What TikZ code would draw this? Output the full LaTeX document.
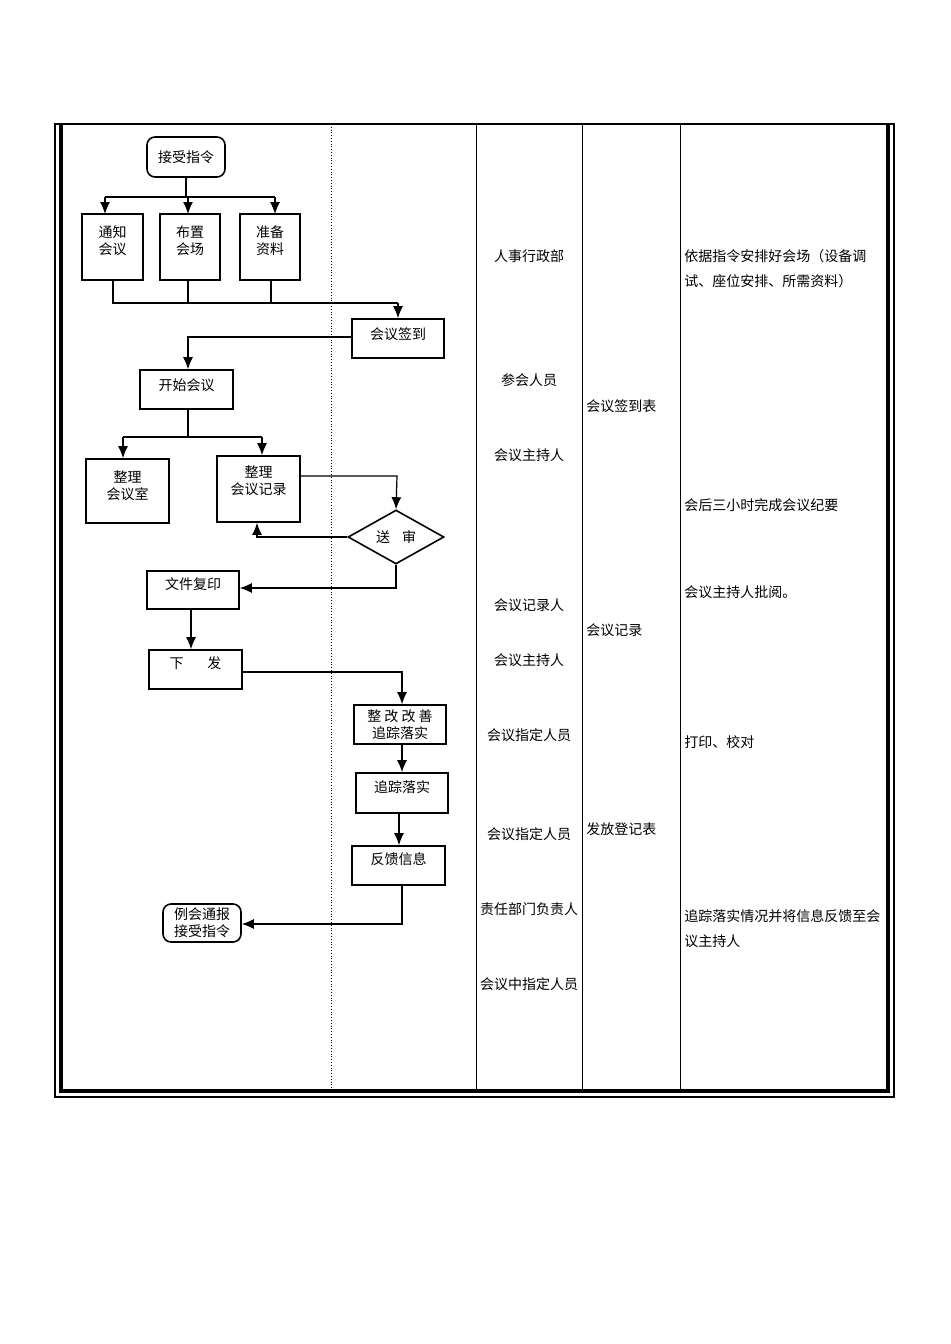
\documentclass[tikz,border=0pt]{standalone}
\usepackage{fontspec}
\setmainfont{Noto Sans CJK SC}
\usetikzlibrary{fit,arrows.meta,shapes.geometric}
\begin{document}
\begin{tikzpicture}[x=0.5pt,y=-0.5pt,
  box/.style={draw,line width=0.8pt,inner sep=0pt},
  rbox/.style={box,rounded corners=4pt},
  ln/.style={line width=0.6pt},
  ar/.style={ln,-{Latex[length=6pt,width=5pt]}},
  tx/.style={font=\fontsize{7}{8.5}\selectfont,align=center,inner sep=0pt},
  tl/.style={tx,anchor=west}]
\useasboundingbox (0,0) rectangle (950,1344);
% frame
\draw[line width=0.9pt] (55,124) rectangle (894,1097);
\draw[line width=1.7pt] (61,124) -- (61,1091) -- (888,1091) -- (888,124);
\draw[densely dotted,line width=0.4pt] (331,124) -- (331,1091);
\foreach \x in {476,582,680} \draw[line width=0.5pt] (\x,124) -- (\x,1091);
% nodes
\node[rbox,fit={(147,137)(225,177)},label={[tx]center:接受指令}] (a) {};
\node[box,fit={(82,214)(143,280)},label={[tx,anchor=north,yshift=-6pt]north:通知\\会议}] (b1) {};
\node[box,fit={(160,214)(220,280)},label={[tx,anchor=north,yshift=-6pt]north:布置\\会场}] (b2) {};
\node[box,fit={(240,214)(300,280)},label={[tx,anchor=north,yshift=-6pt]north:准备\\资料}] (b3) {};
\node[box,fit={(352,319)(444,358)},label={[tx,yshift=2pt]center:会议签到}] (c) {};
\node[box,fit={(140,370)(233,409)},label={[tx,yshift=2pt]center:开始会议}] (d) {};
\node[box,fit={(86,459)(169,523)},label={[tx,anchor=north,yshift=-6pt]north:整理\\会议室}] (e1) {};
\node[box,fit={(217,456)(300,522)},label={[tx,anchor=north,yshift=-5pt]north:整理\\会议记录}] (e2) {};
\node[diamond,draw,line width=0.8pt,minimum width=48pt,minimum height=27pt,inner sep=0pt,aspect=1.8,tx] (f) at (396,537) {送\hspace{6pt}审};
\node[box,fit={(147,571)(239,609)},label={[tx,yshift=3pt]center:文件复印}] (g) {};
\node[box,fit={(149,650)(242,689)},label={[tx,yshift=3pt]center:下\hspace{12pt}发}] (h) {};
\node[box,fit={(354,705)(446,744)},label={[tx]center:整 改 改 善\\追踪落实}] (i) {};
\node[box,fit={(356,773)(448,813)},label={[tx,yshift=3pt]center:追踪落实}] (j) {};
\node[box,fit={(352,846)(445,885)},label={[tx,yshift=3pt]center:反馈信息}] (k) {};
\node[rbox,fit={(163,904)(241,942)},label={[tx]center:例会通报\\接受指令}] (l) {};
% connectors
\coordinate (p1) at (186,197);
\draw[ln] (a.south) -- (p1);
\draw[ln] (105,197) -- (275,197);
\draw[ar] (105,197) -- (105,214);
\draw[ar] (188,197) -- (188,214);
\draw[ar] (275,197) -- (275,214);
\draw[ln] (113,280) -- (113,303) -- (398,303);
\draw[ln] (188,280) -- (188,303);
\draw[ln] (271,280) -- (271,303);
\draw[ar] (398,303) -- (c.north-|398,0);
\draw[ar] (c.west|-0,337) -- (188,337) -- (d.north-|188,0);
\draw[ln] (d.south-|188,0) -- (188,437);
\draw[ln] (123,437) -- (262,437);
\draw[ar] (123,437) -- (e1.north-|123,0);
\draw[ar] (262,437) -- (e2.north-|262,0);
\draw[ar] (e2.east|-0,476) -- (397,476) -- (f.north);
\draw[ar] (f.west) -- (257,537) -- (e2.south-|257,0);
\draw[ar] (f.south) -- (396,588) -- (g.east|-0,588);
\draw[ar] (g.south-|191,0) -- (h.north-|191,0);
\draw[ar] (h.east|-0,672) -- (402,672) -- (i.north-|402,0);
\draw[ar] (i.south-|402,0) -- (j.north-|402,0);
\draw[ar] (j.south-|399,0) -- (k.north-|399,0);
\draw[ar] (k.south-|402,0) -- (402,924) -- (l.east|-0,924);
% column texts
\foreach \t/\y in {人事行政部/256,参会人员/380,会议主持人/455,会议记录人/605,会议主持人/660,会议指定人员/735,会议指定人员/834,责任部门负责人/909,会议中指定人员/984}
  \node[tx] (n\y) at (529,\y) {\t};
\node[tl] (m1) at (586,406) {会议签到表};
\node[tl] (m2) at (586,630) {会议记录};
\node[tl] (m3) at (586,829) {发放登记表};
\node[tl] (r1) at (684,256) {依据指令安排好会场（设备调};
\node[tl] (r2) at (684,281) {试、座位安排、所需资料）};
\node[tl] (r3) at (684,505) {会后三小时完成会议纪要};
\node[tl] (r4) at (684,592) {会议主持人批阅。};
\node[tl] (r5) at (684,742) {打印、校对};
\node[tl] (r6) at (684,916) {追踪落实情况并将信息反馈至会};
\node[tl] (r7) at (684,941) {议主持人};
\end{tikzpicture}
\end{document}
